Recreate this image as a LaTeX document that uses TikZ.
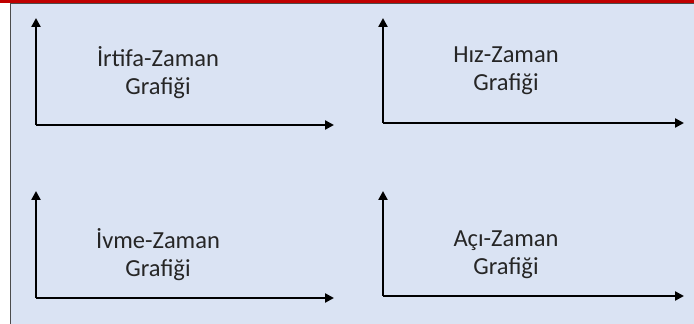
\documentclass[tikz,border=0pt]{standalone}
\usepackage{fontspec}
\setmainfont{Carlito}
\usetikzlibrary{arrows.meta}
\definecolor{boxfill}{HTML}{DAE3F3}
\definecolor{topred}{HTML}{C00000}
\begin{document}
\begin{tikzpicture}[x=1pt,y=1pt,
  axis/.style={line width=2.8pt,-{Triangle[length=9pt,width=9pt]}},
  lbl/.style={align=center,font=\fontsize{24.5}{28}\selectfont,text=black!85}]
\useasboundingbox (0,0) rectangle (694,324);
\fill[white] (0,0) rectangle (694,324);
\fill[boxfill] (10,-2) rectangle (696,321);
\draw[black!70,line width=1.2pt] (10.6,-2) -- (10.6,320.6) -- (696,320.6);
\draw[topred,line width=2.6pt] (0,322.7) -- (694,322.7);
% top-left
\coordinate (o1) at (36,199);
\coordinate (y1) at (36,306);
\coordinate (x1) at (334,199);
\draw[axis] (o1) -- (y1);
\draw[axis] (o1) -- (x1);
\node[lbl] (t1) at (158,251) {İrtifa-Zaman\\Grafiği};
% top-right
\coordinate (o2) at (383,201);
\coordinate (y2) at (383,306);
\coordinate (x2) at (684,201);
\draw[axis] (o2) -- (y2);
\draw[axis] (o2) -- (x2);
\node[lbl] (t2) at (506,253) {Hız-Zaman\\Grafiği};
% bottom-left
\coordinate (o3) at (36,26);
\coordinate (y3) at (36,133);
\coordinate (x3) at (334,26);
\draw[axis] (o3) -- (y3);
\draw[axis] (o3) -- (x3);
\node[lbl] (t3) at (158,69) {İvme-Zaman\\Grafiği};
% bottom-right
\coordinate (o4) at (383,28);
\coordinate (y4) at (383,133);
\coordinate (x4) at (684,28);
\draw[axis] (o4) -- (y4);
\draw[axis] (o4) -- (x4);
\node[lbl] (t4) at (506,69) {Açı-Zaman\\Grafiği};
\end{tikzpicture}
\end{document}
